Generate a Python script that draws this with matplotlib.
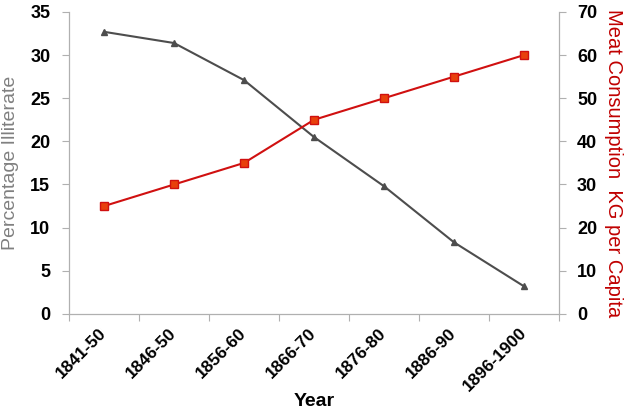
import matplotlib
matplotlib.use("Agg")
import matplotlib.pyplot as plt

plt.rcParams['font.family'] = ['Liberation Sans', 'DejaVu Sans']

years = ["1841-50", "1846-50", "1856-60", "1866-70", "1876-80", "1886-90", "1896-1900"]
illiterate = [32.7, 31.4, 27.1, 20.5, 14.8, 8.3, 3.2]
meat = [25, 30, 35, 45, 50, 55, 60]

grey = "#b0b0b0"
red = "#c00000"

fig = plt.figure(figsize=(6.28, 4.13), dpi=100)
ax = fig.add_axes([0.110, 0.240, 0.780, 0.731])
ax2 = ax.twinx()

x = list(range(len(years)))
ax.plot(x, illiterate, color="#4d4d4d", lw=1.5, marker="^", ms=5, zorder=3)
ax2.plot(x, meat, color="#d01010", lw=1.5, marker="s", ms=6,
         mfc="#e8400c", mec="#d01010", mew=1, zorder=3)

ax.set_xlim(-0.5, len(years) - 0.5)
ax.set_ylim(0, 35)
ax2.set_ylim(0, 70)
ax.set_yticks(range(0, 36, 5))
ax2.set_yticks(range(0, 71, 10))

# category boundaries get the tick marks, centers get the labels
ax.set_xticks([i - 0.5 for i in range(len(years) + 1)])
ax.set_xticklabels([])
ax.set_xticks(x, minor=True)
ax.set_xticklabels(years, minor=True, rotation=45, ha="right", va="center",
                   rotation_mode="anchor", fontsize=12.5, fontweight="bold")
ax.tick_params(axis="x", which="minor", length=0, pad=12)
ax.tick_params(axis="x", which="major", length=5, color=grey, direction="out")

for a in (ax, ax2):
    a.spines["top"].set_visible(False)
    for s in ("left", "right", "bottom"):
        a.spines[s].set_color(grey)
    a.tick_params(axis="y", length=5, color=grey, labelsize=13)
    for lab in a.get_yticklabels():
        lab.set_fontweight("bold")

ax.tick_params(axis="y", pad=8.5)
ax2.tick_params(axis="y", pad=8)

ax.set_ylabel("Percentage Illiterate", color="#808080", fontsize=14, labelpad=8)
ax2.set_ylabel("Meat Consumption  KG per Capita", color=red, fontsize=14.5,
               rotation=270, labelpad=19)
fig.text(0.5, 0.008, "Year", ha="center", va="bottom", fontsize=14, fontweight="bold")

fig.savefig("out.png", dpi=100)
